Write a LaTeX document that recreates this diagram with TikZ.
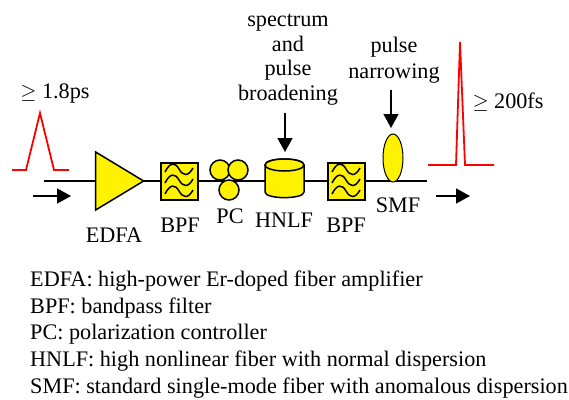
\documentclass[tikz,border=0pt]{standalone}
\usepackage{fontspec}
\setmainfont{Liberation Serif}
\usetikzlibrary{shapes.geometric,arrows.meta,backgrounds}
\tikzset{
    device/.style={draw, fill=yellow, line width=1.5pt, inner sep=0pt},
    bpfbox/.style={device, rectangle, line width=2pt, minimum size=37pt},
    pcloop/.style={device, circle, minimum size=20pt},
    fibre/.style={line width=1.5pt},
    pulse/.style={red, line width=1.8pt},
    flow/.style={line width=1.5pt, -{Triangle[length=14pt,width=15pt]}},
    label/.style={font=\fontsize{22.2}{25}\selectfont, inner sep=0pt},
    legend/.style={label, anchor=base west},
    wave/.pic={
        \foreach \dy in {-10,1,12}
            \draw[line width=1.5pt] (-14,\dy+1) .. controls (-9,\dy-9) and (-4,\dy-9) .. (0,\dy-2)
                .. controls (4,\dy+5) and (9,\dy+6) .. (14,\dy-3);
    }
}
\begin{document}
\begin{tikzpicture}[x=1pt, y=-1pt]
    \useasboundingbox (0,0) rectangle (569,399);

    % Devices on the fibre
    \node[device, isosceles triangle, isosceles triangle stretches, minimum width=58pt, minimum height=48pt] (edfa) at (112,181) {};
    \node[bpfbox] (bpf1) at (179,181) {};
    \node[pcloop] (pc1) at (220,170) {};
    \node[pcloop] (pc2) at (238,170) {};
    \node[pcloop] (pc3) at (229,190) {};
    \node[minimum width=39pt, minimum height=38pt, inner sep=0pt] (hnlf) at (284.5,181) {};
    \draw[device] (265,165) -- (265,192) .. controls (265,199.5) and (304,199.5) .. (304,192) -- (304,165)
        .. controls (304,157) and (265,157) .. cycle;
    \draw[device] (284.5,165) ellipse [x radius=19.5, y radius=6];
    \node[bpfbox] (bpf2) at (346,181) {};
    \node[device, line width=1pt, ellipse, minimum width=20pt, minimum height=48pt] (smf) at (393,158) {};
    \pic at (179,181) {wave};
    \pic at (346,181) {wave};

    % Ends of the fibre and of the arrows
    \coordinate (fibrein) at (44,181);
    \coordinate (fibreout) at (427,181);
    \coordinate (inA) at (33,196);
    \coordinate (inB) at (71,196);
    \coordinate (outA) at (436,196);
    \coordinate (outB) at (470,196);
    \coordinate (broadtop) at (285,113);
    \coordinate (broadtip) at (285,152);
    \coordinate (narrowtop) at (391,90);
    \coordinate (narrowtip) at (391,128);

    % Fibre
    \begin{scope}[on background layer]
        \draw[fibre] (fibrein) -- (edfa.apex);
        \draw[fibre] (edfa.apex) -- (bpf1);
        \draw[fibre] (bpf1) -- (hnlf);
        \draw[fibre] (hnlf) -- (bpf2);
        \draw[fibre] (bpf2) -- (fibreout);
    \end{scope}

    % Arrows
    \draw[flow] (inA) -- (inB);
    \draw[flow] (outA) -- (outB);
    \draw[flow] (broadtop) -- (broadtip);
    \draw[flow] (narrowtop) -- (narrowtip);

    % Pulses
    \draw[pulse] (12,170) -- (26,170) -- (40,113) -- (54,170) -- (69,170);
    \draw[pulse] (428,165) -- (456,165) -- (460,42) -- (465,165) -- (494,165);

    % Labels above
    \node[label] (pw1) at (55,93) {$\geq$ 1.8ps};
    \node[label] (pw2) at (508,102) {$\geq$ 200fs};
    \node[label, align=center, font=\fontsize{22.2}{24.7}\selectfont] (broad) at (288,59.5) {spectrum\\and\\pulse\\broadening};
    \node[label, align=center, font=\fontsize{22.2}{26}\selectfont] (narrow) at (394,60) {pulse\\narrowing};

    % Labels below
    \node[label] (edfatext) at (114,235) {EDFA};
    \node[label] (bpf1text) at (180,225) {BPF};
    \node[label] (pctext) at (230,216) {PC};
    \node[label] (hnlftext) at (284,220) {HNLF};
    \node[label] (bpf2text) at (346,225) {BPF};
    \node[label] (smftext) at (398,205) {SMF};

    % Legend
    \node[legend] (l1) at (30,286) {EDFA: high-power Er-doped fiber amplifier};
    \node[legend] (l2) at (30,313) {BPF: bandpass filter};
    \node[legend] (l3) at (30,339) {PC: polarization controller};
    \node[legend] (l4) at (30,366) {HNLF: high nonlinear fiber with normal dispersion};
    \node[legend] (l5) at (30,393) {SMF: standard single-mode fiber with anomalous dispersion};
\end{tikzpicture}
\end{document}
